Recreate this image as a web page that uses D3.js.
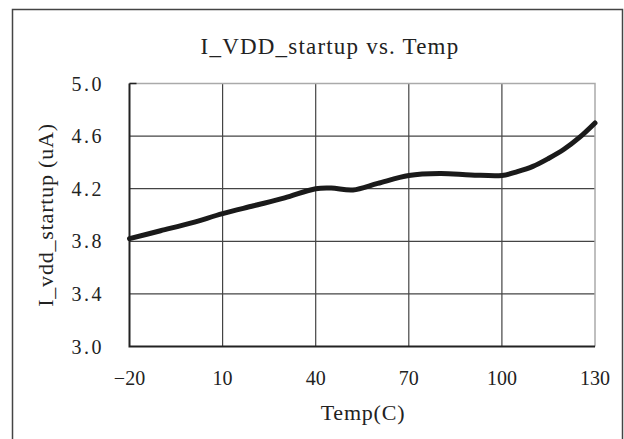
<!DOCTYPE html>
<html>
<head>
<meta charset="utf-8">
<script src="https://cdn.jsdelivr.net/npm/d3@7"></script>
<style>
  body { margin: 0; background: #fff; }
  text { font-family: "Liberation Serif", "DejaVu Serif", serif; fill: #222; }
</style>
</head>
<body>
<svg></svg>
<script>
let width = 624, height = 439;

// data
let temps = [-20, -10, 0, 10, 20, 30, 40, 45, 52, 60, 70, 80, 90, 100, 105, 110, 115, 120, 125, 130];
let current = [3.82, 3.88, 3.94, 4.01, 4.07, 4.13, 4.20, 4.205, 4.19, 4.24, 4.30, 4.315, 4.305, 4.30, 4.33, 4.37, 4.43, 4.50, 4.59, 4.70];
let xTicks = [-20, 10, 40, 70, 100, 130];
let yTicks = [3.0, 3.4, 3.8, 4.2, 4.6, 5.0];

let margin = {left: 129.5, right: 29, top: 83.5, bottom: 92.5};

let svg = d3.select("svg")
  .attr("width", width)
  .attr("height", height);

// outer frame
svg.append("rect")
  .attr("x", 12.5).attr("y", 9.5)
  .attr("width", 610).attr("height", 460)
  .attr("fill", "none")
  .attr("stroke", "#444")
  .attr("stroke-width", 1.5);

let x = d3.scaleLinear()
  .domain([-20, 130])
  .range([margin.left, width - margin.right]);

let y = d3.scaleLinear()
  .domain([3.0, 5.0])
  .range([height - margin.bottom, margin.top]);

// grid
svg.append("g")
  .selectAll("line")
  .data(xTicks.slice(1, -1))
  .enter()
  .append("line")
    .attr("x1", d => x(d)).attr("x2", d => x(d))
    .attr("y1", y(5.0)).attr("y2", y(3.0))
    .attr("stroke", "#444").attr("stroke-width", 1.2);

svg.append("g")
  .selectAll("line")
  .data(yTicks.slice(1, -1))
  .enter()
  .append("line")
    .attr("x1", x(-20)).attr("x2", x(130))
    .attr("y1", d => y(d)).attr("y2", d => y(d))
    .attr("stroke", "#444").attr("stroke-width", 1.2);

// top and right border of plot area (light)
svg.append("path")
  .attr("d", "M" + x(-20) + "," + y(5.0) + "H" + x(130) + "V" + y(3.0))
  .attr("fill", "none")
  .attr("stroke", "#aaa")
  .attr("stroke-width", 1.5);

// axes lines
svg.append("path")
  .attr("d", "M" + x(-20) + "," + y(5.0) + "V" + y(3.0) + "H" + x(130))
  .attr("fill", "none")
  .attr("stroke", "#222")
  .attr("stroke-width", 2);

svg.append("line")
  .attr("x1", x(-20)).attr("x2", x(-20) + 7)
  .attr("y1", y(5.0)).attr("y2", y(5.0))
  .attr("stroke", "#222").attr("stroke-width", 1.5);

// tick labels
svg.append("g")
  .selectAll("text")
  .data(yTicks)
  .enter()
  .append("text")
    .attr("x", 104)
    .attr("y", d => y(d) + 7)
    .attr("text-anchor", "end")
    .style("font-size", "20px")
    .style("letter-spacing", "2.5px")
    .text(d => d3.format(".1f")(d));

svg.append("g")
  .selectAll("text")
  .data(xTicks)
  .enter()
  .append("text")
    .attr("x", d => x(d))
    .attr("y", 385)
    .attr("text-anchor", "middle")
    .style("font-size", "20px")
    .text(d => d < 0 ? "\u2212" + Math.abs(d) : d);

// line
let line = d3.line()
  .x((d, i) => x(temps[i]))
  .y(d => y(d))
  .curve(d3.curveCatmullRom.alpha(0.5));

svg.append("path")
  .datum(current)
  .attr("d", line)
  .attr("fill", "none")
  .attr("stroke", "#1a1a1a")
  .attr("stroke-width", 5)
  .attr("stroke-linecap", "round");

// titles
svg.append("text")
  .attr("x", 330).attr("y", 54)
  .attr("text-anchor", "middle")
  .style("font-size", "23px")
  .style("letter-spacing", "1.2px")
  .text("I_VDD_startup vs. Temp");

svg.append("text")
  .attr("x", 363).attr("y", 420)
  .attr("text-anchor", "middle")
  .style("font-size", "22px")
  .style("letter-spacing", "0.8px")
  .text("Temp(C)");

svg.append("text")
  .attr("transform", "translate(53," + y(4.0) + ") rotate(-90)")
  .attr("text-anchor", "middle")
  .style("font-size", "22px")
  .style("letter-spacing", "0.8px")
  .text("I_vdd_startup (uA)");
</script>
</body>
</html>
